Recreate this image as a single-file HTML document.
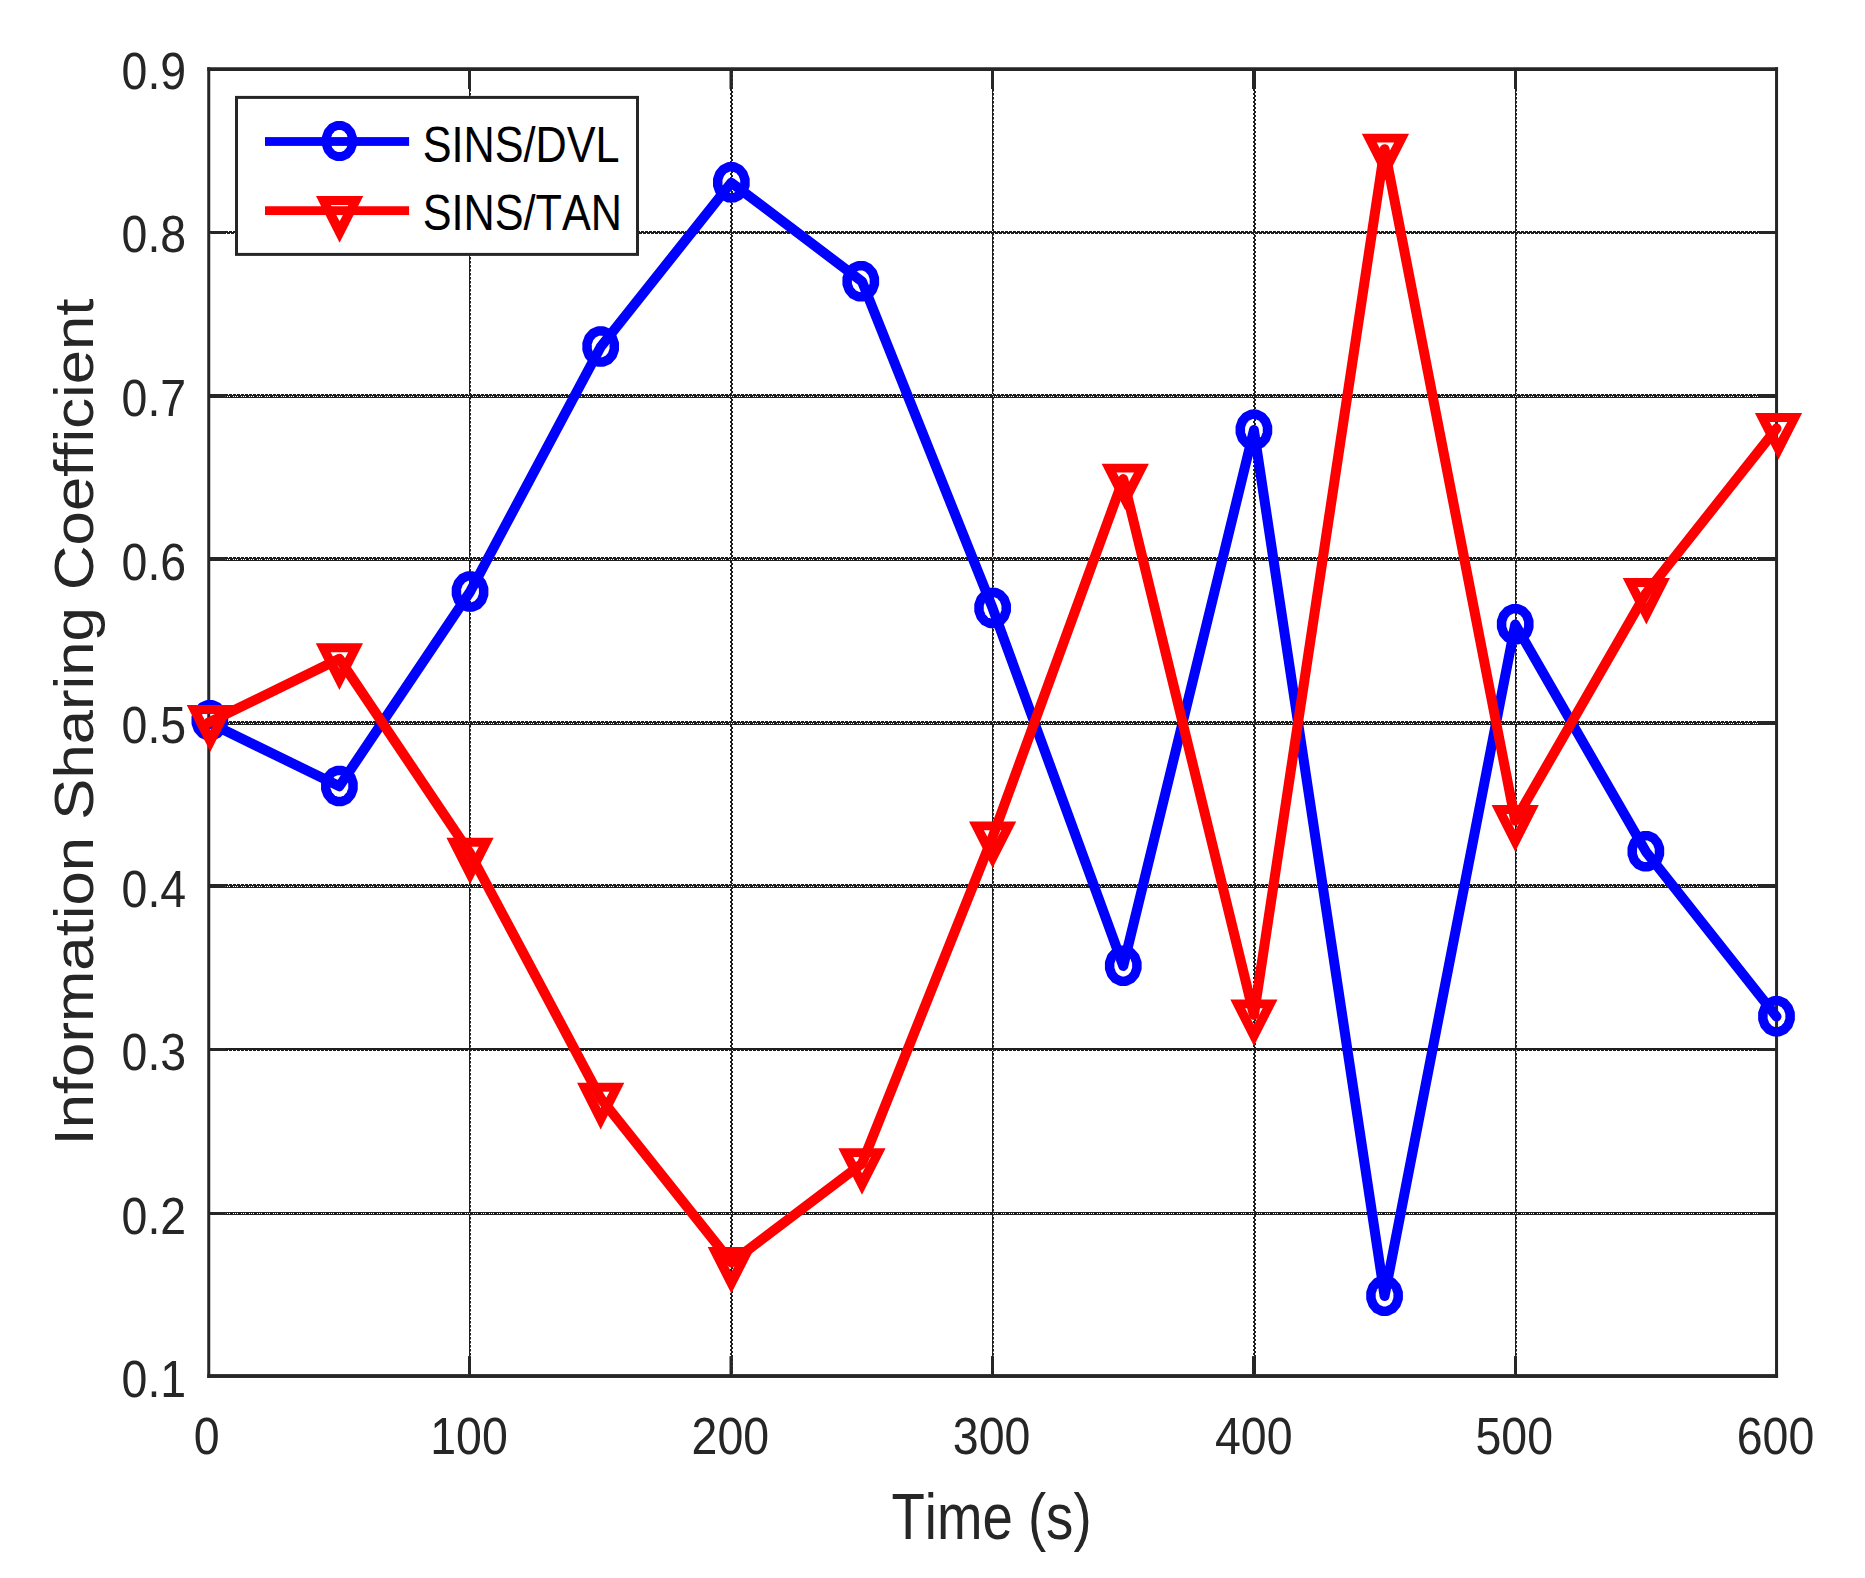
<!DOCTYPE html>
<html lang="en"><head><meta charset="utf-8"><title>Information Sharing Coefficient</title>
<style>html,body{margin:0;padding:0;background:#fff;}body{width:1865px;height:1578px;overflow:hidden;}svg{display:block;}text{font-family:"Liberation Sans",sans-serif;font-kerning:none;}</style>
</head><body>
<svg width="1865" height="1578" viewBox="0 0 1865 1578">
<defs>
<pattern id="gh4" x="0" y="0" width="8" height="4" patternUnits="userSpaceOnUse"><rect width="8" height="4" fill="#1e1e1e"/><rect x="3" y="0" width="1" height="1" fill="#fff"/><rect x="7" y="0" width="1" height="1" fill="#fff"/><rect x="0" y="2" width="1" height="1" fill="#fff"/><rect x="2" y="2" width="1" height="1" fill="#fff"/><rect x="4" y="2" width="1" height="1" fill="#fff"/></pattern>
<pattern id="gh3" x="0" y="0" width="8" height="3" patternUnits="userSpaceOnUse"><rect width="8" height="3" fill="#1e1e1e"/><rect x="0" y="1" width="1" height="1" fill="#fff"/><rect x="2" y="1" width="1" height="1" fill="#fff"/><rect x="4" y="1" width="1" height="1" fill="#fff"/></pattern>
<pattern id="gh3b" x="0" y="0" width="8" height="3" patternUnits="userSpaceOnUse"><rect width="8" height="3" fill="#1e1e1e"/><rect x="3" y="2" width="1" height="1" fill="#fff"/><rect x="7" y="2" width="1" height="1" fill="#fff"/></pattern>
<pattern id="gh3c" x="0" y="0" width="8" height="3" patternUnits="userSpaceOnUse"><rect width="8" height="3" fill="#1e1e1e"/><rect x="3" y="0" width="1" height="1" fill="#fff"/><rect x="7" y="0" width="1" height="1" fill="#fff"/><rect x="1" y="2" width="1" height="1" fill="#fff"/><rect x="5" y="2" width="1" height="1" fill="#fff"/></pattern>
<pattern id="gv2" x="0" y="0" width="2" height="4" patternUnits="userSpaceOnUse"><rect width="2" height="4" fill="#1e1e1e"/><rect x="1" y="3" width="1" height="1" fill="#fff"/><rect x="1" y="2" width="1" height="1" fill="#8f8f8f"/></pattern>
<pattern id="gv3" x="0" y="0" width="3" height="4" patternUnits="userSpaceOnUse"><rect width="3" height="4" fill="#1e1e1e"/><rect x="2" y="0" width="1" height="1" fill="#fff"/><rect x="2" y="1" width="1" height="1" fill="#fff"/><rect x="0" y="2" width="1" height="1" fill="#fff"/><rect x="0" y="3" width="1" height="1" fill="#fff"/></pattern>
</defs>
<rect width="1865" height="1578" fill="#fff"/>
<g id="grid">
<rect transform="translate(469,69)" x="0" y="0" width="2" height="1307.0" fill="url(#gv2)"/>
<rect transform="translate(730,69)" x="0" y="0" width="3" height="1307.0" fill="url(#gv3)"/>
<rect transform="translate(992,69)" x="0" y="0" width="2" height="1307.0" fill="url(#gv2)"/>
<rect transform="translate(1253,69)" x="0" y="0" width="3" height="1307.0" fill="url(#gv3)"/>
<rect transform="translate(1515,69)" x="0" y="0" width="2" height="1307.0" fill="url(#gv2)"/>
<rect transform="translate(209,1212)" x="0" y="0" width="1567.5" height="3" fill="url(#gh3)"/>
<rect transform="translate(209,1048)" x="0" y="0" width="1567.5" height="3" fill="url(#gh3b)"/>
<rect transform="translate(209,884)" x="0" y="0" width="1567.5" height="4" fill="url(#gh4)"/>
<rect transform="translate(209,721)" x="0" y="0" width="1567.5" height="4" fill="url(#gh4)"/>
<rect transform="translate(209,557)" x="0" y="0" width="1567.5" height="4" fill="url(#gh4)"/>
<rect transform="translate(209,394)" x="0" y="0" width="1567.5" height="4" fill="url(#gh4)"/>
<rect transform="translate(209,231)" x="0" y="0" width="1567.5" height="3" fill="url(#gh3c)"/>
</g>
<g id="axes" fill="#262626">
<rect x="207.25" y="67.25" width="1570.8" height="3.75"/>
<rect x="207.25" y="1374.1" width="1570.8" height="3.85"/>
<rect x="207.25" y="67.25" width="3" height="1310.7"/>
<rect x="1775.05" y="67.25" width="3" height="1310.7"/>
<rect x="468.0" y="71" width="3.0" height="18"/>
<rect x="468.0" y="1356.1" width="3.0" height="18"/>
<rect x="729.5" y="71" width="3.4" height="18"/>
<rect x="729.5" y="1356.1" width="3.4" height="18"/>
<rect x="991.0" y="71" width="3.0" height="18"/>
<rect x="991.0" y="1356.1" width="3.0" height="18"/>
<rect x="1252.0" y="71" width="4.0" height="18"/>
<rect x="1252.0" y="1356.1" width="4.0" height="18"/>
<rect x="1514.0" y="71" width="3.0" height="18"/>
<rect x="1514.0" y="1356.1" width="3.0" height="18"/>
<rect x="210.25" y="1212" width="15.5" height="3"/>
<rect x="1759.35" y="1212" width="15.7" height="3"/>
<rect x="210.25" y="1048" width="15.5" height="3"/>
<rect x="1759.35" y="1048" width="15.7" height="3"/>
<rect x="210.25" y="884" width="15.5" height="4"/>
<rect x="1759.35" y="884" width="15.7" height="4"/>
<rect x="210.25" y="721" width="15.5" height="4"/>
<rect x="1759.35" y="721" width="15.7" height="4"/>
<rect x="210.25" y="557" width="15.5" height="4"/>
<rect x="1759.35" y="557" width="15.7" height="4"/>
<rect x="210.25" y="394" width="15.5" height="4"/>
<rect x="1759.35" y="394" width="15.7" height="4"/>
<rect x="210.25" y="231" width="15.5" height="3"/>
<rect x="1759.35" y="231" width="15.7" height="3"/>
</g>
<g id="ticklabels" fill="#262626" font-size="46.5">
<text transform="translate(206.8,1454.3) scale(1,1.112)" text-anchor="middle">0</text>
<text transform="translate(469.0,1454.3) scale(1,1.112)" text-anchor="middle">100</text>
<text transform="translate(730.3,1454.3) scale(1,1.112)" text-anchor="middle">200</text>
<text transform="translate(991.6,1454.3) scale(1,1.112)" text-anchor="middle">300</text>
<text transform="translate(1253.7,1454.3) scale(1,1.112)" text-anchor="middle">400</text>
<text transform="translate(1514.2,1454.3) scale(1,1.112)" text-anchor="middle">500</text>
<text transform="translate(1775.5,1454.3) scale(1,1.112)" text-anchor="middle">600</text>
<text transform="translate(186.2,1397.0) scale(1,1.112)" text-anchor="end">0.1</text>
<text transform="translate(186.2,1233.5) scale(1,1.112)" text-anchor="end">0.2</text>
<text transform="translate(186.2,1070.0) scale(1,1.112)" text-anchor="end">0.3</text>
<text transform="translate(186.2,906.5) scale(1,1.112)" text-anchor="end">0.4</text>
<text transform="translate(186.2,743.0) scale(1,1.112)" text-anchor="end">0.5</text>
<text transform="translate(186.2,579.5) scale(1,1.112)" text-anchor="end">0.6</text>
<text transform="translate(186.2,415.9) scale(1,1.112)" text-anchor="end">0.7</text>
<text transform="translate(186.2,252.4) scale(1,1.112)" text-anchor="end">0.8</text>
<text transform="translate(186.2,88.9) scale(1,1.112)" text-anchor="end">0.9</text>
</g>
<g id="labels" fill="#262626" font-size="54.6">
<text transform="translate(991.5,1538.5) scale(1,1.170)" text-anchor="middle">Time (s)</text>
<text transform="translate(93.1,722) rotate(-90) scale(1.130,1)" text-anchor="middle">Information Sharing Coefficient</text>
</g>
<g id="series-blue">
<polyline points="208.75,722.55 339.40,786.26 470.04,591.86 600.69,346.82 731.33,182.64 861.98,281.47 992.62,608.20 1123.27,965.96 1253.92,430.13 1384.56,1295.95 1515.21,624.53 1645.85,851.61 1776.50,1016.60" fill="none" stroke="#0000ff" stroke-width="10.00" stroke-linejoin="round" stroke-linecap="round"/>
<polygon points="223.45,723.33 221.38,729.03 217.55,733.39 212.55,735.75 207.15,735.75 202.15,733.39 198.32,729.03 196.25,723.33 196.25,717.17 198.32,711.47 202.15,707.11 207.15,704.75 212.55,704.75 217.55,707.11 221.38,711.47 223.45,717.17" fill="none" stroke="#0000ff" stroke-width="9.5" stroke-linejoin="round"/>
<polygon points="352.99,789.04 350.92,794.74 347.10,799.10 342.10,801.46 336.69,801.46 331.69,799.10 327.87,794.74 325.80,789.04 325.80,782.88 327.87,777.18 331.69,772.82 336.69,770.46 342.10,770.46 347.10,772.82 350.92,777.18 352.99,782.88" fill="none" stroke="#0000ff" stroke-width="9.5" stroke-linejoin="round"/>
<polygon points="483.64,594.64 481.57,600.34 477.74,604.70 472.75,607.06 467.34,607.06 462.34,604.70 458.51,600.34 456.44,594.64 456.44,588.48 458.51,582.78 462.34,578.42 467.34,576.06 472.75,576.06 477.74,578.42 481.57,582.78 483.64,588.48" fill="none" stroke="#0000ff" stroke-width="9.5" stroke-linejoin="round"/>
<polygon points="614.28,349.60 612.21,355.29 608.39,359.65 603.39,362.01 597.98,362.01 592.99,359.65 589.16,355.29 587.09,349.60 587.09,343.43 589.16,337.74 592.99,333.38 597.98,331.02 603.39,331.02 608.39,333.38 612.21,337.74 614.28,343.43" fill="none" stroke="#0000ff" stroke-width="9.5" stroke-linejoin="round"/>
<polygon points="744.93,185.42 742.86,191.12 739.04,195.47 734.04,197.83 728.63,197.83 723.63,195.47 719.81,191.12 717.74,185.42 717.74,179.25 719.81,173.56 723.63,169.20 728.63,166.84 734.04,166.84 739.04,169.20 742.86,173.56 744.93,179.25" fill="none" stroke="#0000ff" stroke-width="9.5" stroke-linejoin="round"/>
<polygon points="874.38,284.25 872.31,289.95 868.48,294.31 863.48,296.67 858.07,296.67 853.08,294.31 849.25,289.95 847.18,284.25 847.18,278.09 849.25,272.39 853.08,268.03 858.07,265.67 863.48,265.67 868.48,268.03 872.31,272.39 874.38,278.09" fill="none" stroke="#0000ff" stroke-width="9.5" stroke-linejoin="round"/>
<polygon points="1006.22,610.98 1004.15,616.67 1000.33,621.03 995.33,623.39 989.92,623.39 984.92,621.03 981.10,616.67 979.03,610.98 979.03,604.81 981.10,599.12 984.92,594.76 989.92,592.40 995.33,592.40 1000.33,594.76 1004.15,599.12 1006.22,604.81" fill="none" stroke="#0000ff" stroke-width="9.5" stroke-linejoin="round"/>
<polygon points="1136.87,968.74 1134.80,974.44 1130.97,978.80 1125.98,981.16 1120.57,981.16 1115.57,978.80 1111.74,974.44 1109.67,968.74 1109.67,962.58 1111.74,956.88 1115.57,952.52 1120.57,950.16 1125.98,950.16 1130.97,952.52 1134.80,956.88 1136.87,962.58" fill="none" stroke="#0000ff" stroke-width="9.5" stroke-linejoin="round"/>
<polygon points="1267.51,432.91 1265.44,438.61 1261.62,442.97 1256.62,445.33 1251.21,445.33 1246.21,442.97 1242.39,438.61 1240.32,432.91 1240.32,426.75 1242.39,421.05 1246.21,416.69 1251.21,414.33 1256.62,414.33 1261.62,416.69 1265.44,421.05 1267.51,426.75" fill="none" stroke="#0000ff" stroke-width="9.5" stroke-linejoin="round"/>
<polygon points="1398.16,1298.73 1396.09,1304.43 1392.26,1308.79 1387.27,1311.15 1381.86,1311.15 1376.86,1308.79 1373.04,1304.43 1370.97,1298.73 1370.97,1292.57 1373.04,1286.87 1376.86,1282.51 1381.86,1280.16 1387.27,1280.16 1392.26,1282.51 1396.09,1286.87 1398.16,1292.57" fill="none" stroke="#0000ff" stroke-width="9.5" stroke-linejoin="round"/>
<polygon points="1528.81,627.31 1526.74,633.01 1522.91,637.37 1517.91,639.73 1512.50,639.73 1507.51,637.37 1503.68,633.01 1501.61,627.31 1501.61,621.15 1503.68,615.45 1507.51,611.10 1512.50,608.74 1517.91,608.74 1522.91,611.10 1526.74,615.45 1528.81,621.15" fill="none" stroke="#0000ff" stroke-width="9.5" stroke-linejoin="round"/>
<polygon points="1659.45,854.39 1657.38,860.08 1653.56,864.44 1648.56,866.80 1643.15,866.80 1638.15,864.44 1634.33,860.08 1632.26,854.39 1632.26,848.22 1634.33,842.53 1638.15,838.17 1643.15,835.81 1648.56,835.81 1653.56,838.17 1657.38,842.53 1659.45,848.22" fill="none" stroke="#0000ff" stroke-width="9.5" stroke-linejoin="round"/>
<polygon points="1790.10,1019.38 1788.03,1025.08 1784.20,1029.44 1779.20,1031.80 1773.80,1031.80 1768.80,1029.44 1764.97,1025.08 1762.90,1019.38 1762.90,1013.22 1764.97,1007.52 1768.80,1003.17 1773.80,1000.81 1779.20,1000.81 1784.20,1003.17 1788.03,1007.52 1790.10,1013.22" fill="none" stroke="#0000ff" stroke-width="9.5" stroke-linejoin="round"/>
</g>
<g id="series-red">
<polyline points="208.75,722.55 339.40,658.84 470.04,853.24 600.69,1098.28 731.33,1262.46 861.98,1163.63 992.62,836.90 1123.27,479.14 1253.92,1014.97 1384.56,149.15 1515.21,820.57 1645.85,593.49 1776.50,428.50" fill="none" stroke="#ff0000" stroke-width="10.00" stroke-linejoin="round" stroke-linecap="round"/>
<path d="M186.75 705.05L233.95 705.05L210.35 751.65ZM201.60 713.95L219.10 713.95L210.35 730.15Z" fill="#ff0000" fill-rule="evenodd"/>
<path d="M315.80 643.34L363.00 643.34L339.40 689.94ZM330.65 652.24L348.15 652.24L339.40 668.44Z" fill="#ff0000" fill-rule="evenodd"/>
<path d="M446.44 837.74L493.64 837.74L470.04 884.34ZM461.29 846.64L478.79 846.64L470.04 862.84Z" fill="#ff0000" fill-rule="evenodd"/>
<path d="M577.09 1082.78L624.29 1082.78L600.69 1129.38ZM591.94 1091.68L609.44 1091.68L600.69 1107.88Z" fill="#ff0000" fill-rule="evenodd"/>
<path d="M707.73 1246.96L754.93 1246.96L731.33 1293.56ZM722.58 1255.86L740.08 1255.86L731.33 1272.06Z" fill="#ff0000" fill-rule="evenodd"/>
<path d="M838.38 1148.13L885.58 1148.13L861.98 1194.73ZM853.23 1157.03L870.73 1157.03L861.98 1173.23Z" fill="#ff0000" fill-rule="evenodd"/>
<path d="M969.02 821.40L1016.23 821.40L992.62 868.00ZM983.88 830.30L1001.38 830.30L992.62 846.50Z" fill="#ff0000" fill-rule="evenodd"/>
<path d="M1101.67 463.64L1148.87 463.64L1125.27 510.24ZM1116.52 472.54L1134.02 472.54L1125.27 488.74Z" fill="#ff0000" fill-rule="evenodd"/>
<path d="M1230.32 999.47L1277.52 999.47L1253.92 1046.07ZM1245.17 1008.37L1262.67 1008.37L1253.92 1024.57Z" fill="#ff0000" fill-rule="evenodd"/>
<path d="M1361.86 133.65L1409.06 133.65L1385.46 180.25ZM1376.71 142.55L1394.21 142.55L1385.46 158.75Z" fill="#ff0000" fill-rule="evenodd"/>
<path d="M1491.61 805.07L1538.81 805.07L1515.21 851.67ZM1506.46 813.97L1523.96 813.97L1515.21 830.17Z" fill="#ff0000" fill-rule="evenodd"/>
<path d="M1622.75 577.99L1669.95 577.99L1646.35 624.59ZM1637.60 586.89L1655.10 586.89L1646.35 603.09Z" fill="#ff0000" fill-rule="evenodd"/>
<path d="M1754.90 413.00L1802.10 413.00L1778.50 459.60ZM1769.75 421.90L1787.25 421.90L1778.50 438.10Z" fill="#ff0000" fill-rule="evenodd"/>
</g>
<g id="legend">
<rect x="236.5" y="97.4" width="401" height="157" fill="#fff" stroke="#262626" stroke-width="3"/>
<rect x="265" y="137.1" width="144.1" height="8.8" fill="#0000ff"/>
<polygon points="352.60,144.09 350.59,149.81 346.88,154.18 342.03,156.55 336.77,156.55 331.92,154.18 328.21,149.81 326.20,144.09 326.20,137.91 328.21,132.19 331.92,127.82 336.77,125.45 342.03,125.45 346.88,127.82 350.59,132.19 352.60,137.91" fill="none" stroke="#0000ff" stroke-width="9.0" stroke-linejoin="round"/>
<rect x="265" y="206.25" width="144.1" height="8.8" fill="#ff0000"/>
<path d="M316.00 196.10L363.20 196.10L339.60 242.70ZM330.85 205.00L348.35 205.00L339.60 221.20Z" fill="#ff0000" fill-rule="evenodd"/>
<g fill="#000" font-size="43.2">
<text transform="translate(422.8,162.1) scale(1,1.175)">SINS/DVL</text>
<text transform="translate(422.8,230.0) scale(1,1.175)">SINS/TAN</text>
</g></g>
</svg></body></html>
